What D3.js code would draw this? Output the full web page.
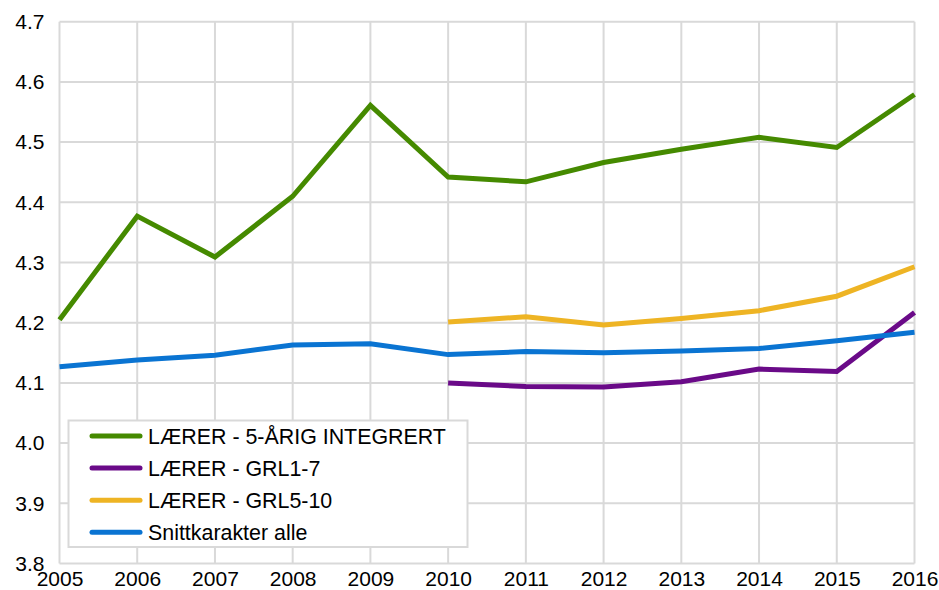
<!DOCTYPE html>
<html>
<head>
<meta charset="utf-8">
<script src="https://cdn.jsdelivr.net/npm/d3@7"></script>
<style>
  body { margin: 0; background: #fff; }
  text { font-family: "Liberation Sans", Arial, sans-serif; fill: #000; }
</style>
</head>
<body>
<div id="chart"></div>
<script>
// data
var years = [2005, 2006, 2007, 2008, 2009, 2010, 2011, 2012, 2013, 2014, 2015, 2016];
var yTicks = [3.8, 3.9, 4.0, 4.1, 4.2, 4.3, 4.4, 4.5, 4.6, 4.7];

var integrert = [4.205, 4.377, 4.309, 4.410, 4.561, 4.442, 4.434, 4.466, 4.488, 4.508, 4.491, 4.579];
var grl17 = [null, null, null, null, null, 4.100, 4.094, 4.093, 4.102, 4.123, 4.119, 4.217];
var grl510 = [null, null, null, null, null, 4.201, 4.210, 4.196, 4.207, 4.220, 4.244, 4.293];
var snitt = [4.127, 4.138, 4.146, 4.163, 4.165, 4.147, 4.152, 4.150, 4.153, 4.157, 4.170, 4.184];

var seriesNames = ["LÆRER - 5-ÅRIG INTEGRERT", "LÆRER - GRL1-7", "LÆRER - GRL5-10", "Snittkarakter alle"];
var seriesColors = ["#458a00", "#6a0a88", "#eeb424", "#0a74d2"];
var seriesValues = [integrert, grl17, grl510, snitt];

var svgWidth = 939;
var svgHeight = 590;

var margin = { top: 21.7, right: 24.5, bottom: 26.5, left: 59.5 };
var width = svgWidth - margin.left - margin.right;
var height = svgHeight - margin.top - margin.bottom;

var svg = d3.select("#chart")
  .append("svg")
  .attr("width", svgWidth)
  .attr("height", svgHeight);

var chartGroup = svg.append("g")
  .attr("transform", `translate(${margin.left}, ${margin.top})`);

var xScale = d3.scaleLinear()
  .domain([d3.min(years), d3.max(years)])
  .range([0, width]);

var yScale = d3.scaleLinear()
  .domain([3.8, 4.7])
  .range([height, 0]);

// grid lines
chartGroup.append("g")
  .selectAll("line.h")
  .data(yTicks)
  .enter()
  .append("line")
  .attr("x1", 0)
  .attr("x2", width)
  .attr("y1", d => yScale(d))
  .attr("y2", d => yScale(d))
  .attr("stroke", "#d9d9d9")
  .attr("stroke-width", 2);

chartGroup.append("g")
  .selectAll("line.v")
  .data(years)
  .enter()
  .append("line")
  .attr("x1", d => xScale(d))
  .attr("x2", d => xScale(d))
  .attr("y1", 0)
  .attr("y2", height)
  .attr("stroke", "#d9d9d9")
  .attr("stroke-width", 2);

// axes (labels only)
var leftAxis = d3.axisLeft(yScale)
  .tickValues(yTicks)
  .tickFormat(d3.format(".1f"))
  .tickSize(0)
  .tickPadding(15);

var bottomAxis = d3.axisBottom(xScale)
  .tickValues(years)
  .tickFormat(d3.format("d"))
  .tickSize(0)
  .tickPadding(8);

var yAxis = chartGroup.append("g").call(leftAxis);
var xAxis = chartGroup.append("g")
  .attr("transform", `translate(0, ${height})`)
  .call(bottomAxis);

[yAxis, xAxis].forEach(function(ax) {
  ax.select(".domain").remove();
  ax.selectAll("text")
    .attr("font-family", "Liberation Sans, Arial, sans-serif")
    .attr("font-size", "21px")
    .attr("fill", "#000");
});

// lines
var line = d3.line()
  .defined(d => d.v !== null)
  .x(d => xScale(d.year))
  .y(d => yScale(d.v));

seriesValues.forEach(function(vals, i) {
  var pts = years.map((y, j) => ({ year: y, v: vals[j] }));
  chartGroup.append("path")
    .datum(pts)
    .attr("d", line)
    .attr("fill", "none")
    .attr("stroke", seriesColors[i])
    .attr("stroke-width", 5)
    .attr("stroke-linejoin", "miter");
});

// legend
var legend = svg.append("g");
legend.append("rect")
  .attr("x", 68.5)
  .attr("y", 420.5)
  .attr("width", 399)
  .attr("height", 126.5)
  .attr("fill", "#fff")
  .attr("stroke", "#d9d9d9")
  .attr("stroke-width", 2);

var items = legend.selectAll("g.item")
  .data(seriesNames)
  .enter()
  .append("g")
  .attr("transform", (d, i) => `translate(0, ${436 + i * 32.1})`);

items.append("line")
  .attr("x1", 92)
  .attr("x2", 140)
  .attr("y1", 0)
  .attr("y2", 0)
  .attr("stroke", (d, i) => seriesColors[i])
  .attr("stroke-width", 5)
  .attr("stroke-linecap", "round");

items.append("text")
  .attr("x", 148)
  .attr("y", 0)
  .attr("dy", "0.35em")
  .attr("font-size", "21.4px")
  .text(d => d);
</script>
</body>
</html>
